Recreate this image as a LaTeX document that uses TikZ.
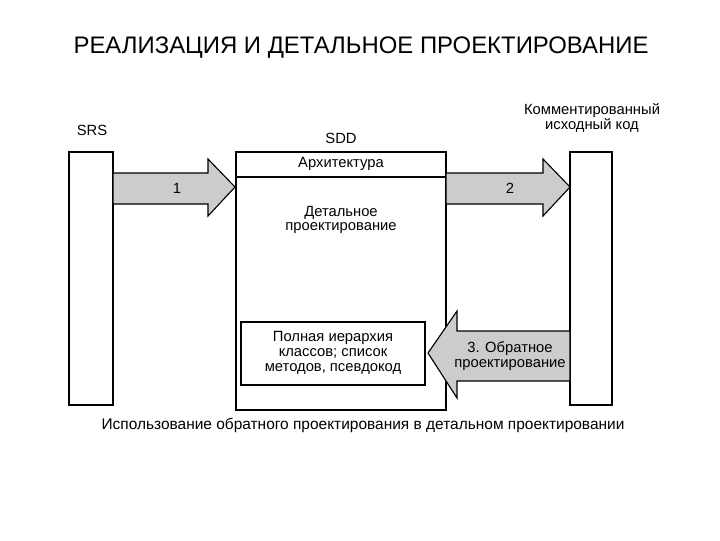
\documentclass[tikz,border=0pt]{standalone}
\usepackage{fontspec}
\setmainfont{Liberation Sans}
\begin{document}
\begin{tikzpicture}[x=0.025cm, y=-0.025cm, every node/.style={font=\fontsize{10.5}{12.5}\selectfont, align=center},
  box/.style={draw, thick, fill=white},
  blockarrow/.style={draw, thick, fill=gray!40}]
\useasboundingbox (0,0) rectangle (720,540);
\node (title) at (361,48) {\fontsize{17}{20}\selectfont РЕАЛИЗАЦИЯ И ДЕТАЛЬНОЕ ПРОЕКТИРОВАНИЕ};
% three documents
\draw[box] (69,152) rectangle (113,405);
\draw[box] (236,152) rectangle (446,410);
\draw[box] (570,152) rectangle (612,405);
\draw[thick] (236,177)--(446,177);
\draw[box] (241,322) rectangle (425,385);
\node (srs) at (92,130) {SRS};
\node (sdd) at (341,138) {SDD};
\node (code) at (592,118) {Комментированный\\[-2pt] исходный код};
\node (arch) at (341,164) {Архитектура};
\node (detail) at (341,220) {Детальное\\[-2pt] проектирование};
\node (hier) at (333,353) {Полная иерархия\\[-2pt] классов; список\\[-2pt] методов, псевдокод};
% block arrows
\draw[blockarrow] (113,173)--(208,173)--(208,159)--(235,187)--(208,216)--(208,204)--(113,204)--cycle;
\node (n1) at (177,188) {1};
\draw[blockarrow] (446,173)--(543,173)--(543,159)--(570,187)--(543,216)--(543,204)--(446,204)--cycle;
\node (n2) at (510,188) {2};
\draw[blockarrow] (570,331)--(457,331)--(457,311)--(428,353)--(457,398)--(457,381)--(570,381)--cycle;
\node (n3) at (510,356) {3. Обратное\\[-2pt] проектирование};
\node (caption) at (363,425) {\fontsize{11}{13}\selectfont Использование обратного проектирования в детальном проектировании};
\end{tikzpicture}
\end{document}
